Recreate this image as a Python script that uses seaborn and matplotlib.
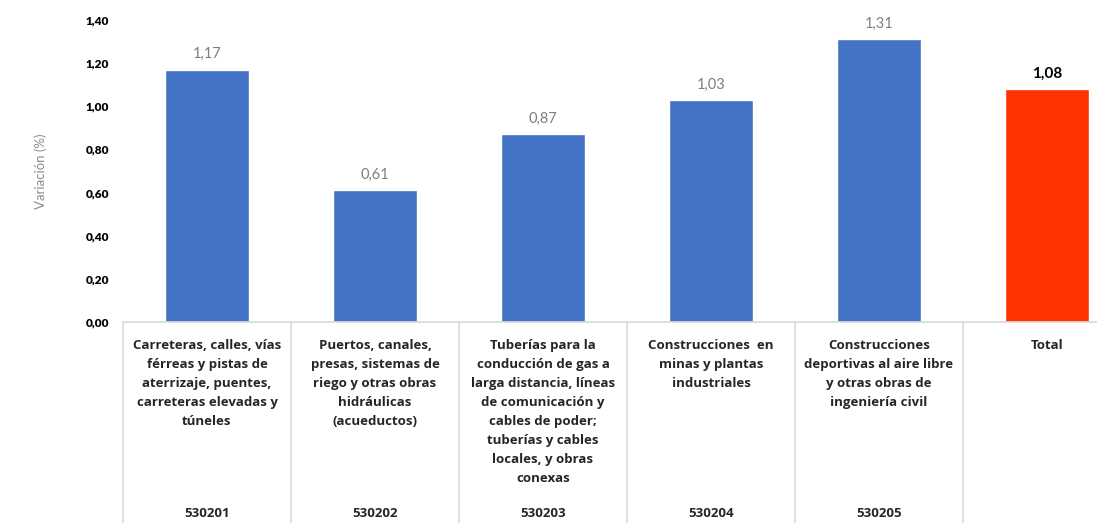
import matplotlib
matplotlib.use("Agg")
import matplotlib.pyplot as plt
import matplotlib.transforms as mtransforms
import seaborn as sns
import pandas as pd

categories = [
    "Carreteras, calles, vías\nférreas y pistas de\naterrizaje, puentes,\ncarreteras elevadas y\ntúneles",
    "Puertos, canales,\npresas, sistemas de\nriego y otras obras\nhidráulicas\n(acueductos)",
    "Tuberías para la\nconducción de gas a\nlarga distancia, líneas\nde comunicación y\ncables de poder;\ntuberías y cables\nlocales, y obras\nconexas",
    "Construcciones  en\nminas y plantas\nindustriales",
    "Construcciones\ndeportivas al aire libre\ny otras obras de\ningeniería civil",
    "Total",
]
codes = ["530201", "530202", "530203", "530204", "530205", ""]
values = [1.17, 0.61, 0.87, 1.03, 1.31, 1.08]
groups = ["sub", "sub", "sub", "sub", "sub", "total"]
yticks = [0.0, 0.2, 0.4, 0.6, 0.8, 1.0, 1.2, 1.4]

sns.set_theme(style="white")
plt.rcParams["font.family"] = ["Lato", "DejaVu Sans"]

df = pd.DataFrame({"cat": codes, "idx": range(len(values)), "val": values, "grp": groups})

fig = plt.figure(figsize=(10.97, 5.23), dpi=100)
W, H = 1097, 523
ax = fig.add_axes([123 / W, (H - 322) / H, 1008 / W, 302 / H])

sns.barplot(data=df, x="idx", y="val", hue="grp",
            palette={"sub": "#4472C4", "total": "#FF3300"},
            dodge=False, width=0.5, legend=False, ax=ax, saturation=1)

ax.set_xlim(-0.5, len(values) - 0.5)
ax.set_ylim(0, 1.4)
ax.set_yticks(yticks)
ax.set_yticklabels([f"{v:.2f}".replace(".", ",") for v in yticks],
                   fontsize=8.5, fontweight="heavy", color="black")
ax.tick_params(axis="y", length=0, pad=10)
ax.set_xticks([])
ax.set_xlabel("")
ax.set_ylabel("Variación (%)", fontsize=9.5, color="#8c8c8c", labelpad=28)

for s in ["top", "right", "left"]:
    ax.spines[s].set_visible(False)
ax.spines["bottom"].set_color("#d9d9d9")
ax.spines["bottom"].set_linewidth(1.2)

# value labels
for i, v in enumerate(values):
    is_total = groups[i] == "total"
    ax.annotate(f"{v:.2f}".replace(".", ","), (i, v), xytext=(0, 6),
                textcoords="offset points", ha="center", va="bottom",
                fontsize=11 if is_total else 10.5,
                fontweight="bold" if is_total else "normal",
                color="black" if is_total else "#7f7f7f")

# category table below the axis
trans = mtransforms.blended_transform_factory(ax.transData, ax.transAxes)
for b in [i - 0.5 for i in range(len(values) + 1)]:
    ax.plot([b, b], [0, -0.7], transform=trans, color="#d9d9d9",
            linewidth=1.2, clip_on=False)

for i, (lab, code) in enumerate(zip(categories, codes)):
    ax.annotate(lab, (i, 0), xycoords=trans, xytext=(0, -12),
                textcoords="offset points", ha="center", va="top",
                fontsize=9.5, fontweight="bold", color="#262626",
                family=["Open Sans", "DejaVu Sans"],
                linespacing=1.6, annotation_clip=False)
    if code:
        ax.annotate(code, (i, 0), xycoords=trans, xytext=(0, -138),
                    textcoords="offset points", ha="center", va="center",
                    fontsize=9.5, fontweight="bold", color="#262626",
                    family=["Open Sans", "DejaVu Sans"],
                    annotation_clip=False)

fig.savefig("out.png", dpi=100, facecolor="white")
